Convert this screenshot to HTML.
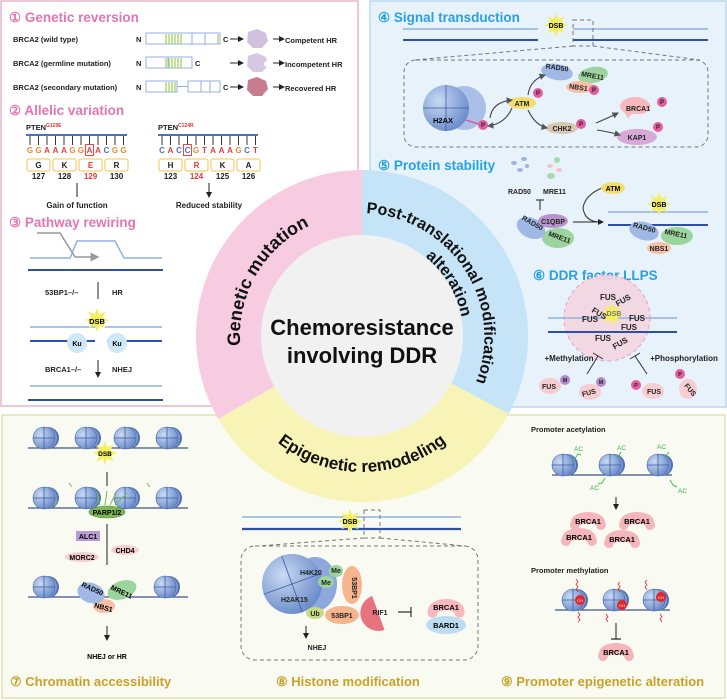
<!DOCTYPE html>
<html><head><meta charset="utf-8"><style>
html,body{margin:0;padding:0;background:#fff}
svg{display:block;font-family:"Liberation Sans",Arial,sans-serif}
.b{font-weight:bold}
</style></head><body>
<svg width="727" height="700" viewBox="0 0 727 700" xmlns="http://www.w3.org/2000/svg">
<defs>
<radialGradient id="ng" cx="0.35" cy="0.35" r="0.8"><stop offset="0" stop-color="#c9daf3"/><stop offset="1" stop-color="#5c80c4"/></radialGradient>
<symbol id="nuc" overflow="visible">
<circle cx="4" cy="0" r="11" fill="#4f6fae"/><circle cx="2" cy="0" r="11" fill="#7f9bd2"/>
<circle cx="0" cy="0" r="11" fill="url(#ng)" stroke="#4a68a8" stroke-width="0.6"/>
<path d="M-11,0H11M0,-11V11" stroke="#3f5e9e" stroke-width="0.8"/></symbol>
<symbol id="star" overflow="visible"><polygon points="12,0 5.5,2.3 8.5,8.5 2.3,5.5 0,12 -2.3,5.5 -8.5,8.5 -5.5,2.3 -12,0 -5.5,-2.3 -8.5,-8.5 -2.3,-5.5 0,-12 2.3,-5.5 8.5,-8.5 5.5,-2.3" fill="#f4ef5c"/></symbol>
<marker id="ar" markerWidth="6" markerHeight="6" refX="5" refY="3" orient="auto"><path d="M0,0L6,3L0,6Z" fill="#222"/></marker>
<marker id="ag" markerWidth="6" markerHeight="6" refX="5" refY="3" orient="auto"><path d="M0,0L6,3L0,6Z" fill="#555"/></marker>
<marker id="agr" markerWidth="6" markerHeight="6" refX="5" refY="3" orient="auto"><path d="M0,0L6,3L0,6Z" fill="#999"/></marker>
<path id="tGen" d="M301,441.7 A122,122 0 0 1 423,230.3"/>
<path id="tPost" d="M294.5,232 A124,124 0 0 1 429.5,440"/>
<path id="tAlt" d="M309,247.7 A103,103 0 0 1 415,424.3"/>
<path id="tEpi" d="M226,336 A136,136 0 0 0 498,336"/>
</defs>

<rect x="1" y="1" width="357" height="405" fill="#fff" stroke="#e8b6cc" stroke-width="1.5"/>
<rect x="370" y="1" width="356" height="406" fill="#e7f2fb" stroke="#b9d8ee" stroke-width="1.5"/>
<rect x="2" y="415" width="723" height="283" fill="#f9faf2" stroke="#dfe4b3" stroke-width="1.5"/>

<g font-size="13.5" fill="#e276ae" font-weight="bold">
<text x="9" y="22">① Genetic reversion</text>
<text x="9" y="115">② Allelic variation</text>
<text x="9" y="227">③ Pathway rewiring</text></g>
<g font-size="7.5" font-weight="bold" fill="#222">
<text x="13" y="42">BRCA2 (wild type)</text>
<text x="13" y="66">BRCA2 (germline mutation)</text>
<text x="13" y="90">BRCA2 (secondary mutation)</text>
<text x="136" y="42">N</text><text x="136" y="66">N</text><text x="136" y="90">N</text>
<text x="223" y="42">C</text><text x="195" y="66">C</text><text x="223" y="90">C</text>
<text x="285" y="43">Competent HR</text><text x="285" y="67">Incompetent HR</text><text x="285" y="91">Recovered HR</text></g>
<g stroke="#8fb1e0" fill="#fff" stroke-width="1">
<rect x="146" y="33" width="74" height="11"/><rect x="146" y="57" width="46" height="11"/>
<rect x="146" y="81" width="31" height="11"/><rect x="188" y="81" width="32" height="11"/>
<path d="M177,86.5H188M192,33v11M205,33v11M168,57v11M201,81v11M210,81v11" fill="none"/></g>
<g stroke="#9fcf5a" stroke-width="1.2">
<path d="M166,34v10M169,34v10M172,34v10M175,34v10M178,34v10M181,34v10M218,34v10M166,58v10M169,58v10M172,58v10M175,58v10M178,58v10M181,58v10M166,82v10M169,82v10M172,82v10M175,82v10"/></g>
<g stroke="#222" stroke-width="1" marker-end="url(#ar)">
<path d="M230,39H243"/><path d="M230,63H243"/><path d="M230,87H243"/>
<path d="M273,39H284"/><path d="M273,63H284"/><path d="M273,87H284"/></g>
<path d="M248,32l9,-3l9,4l2,8l-6,7l-9,0l-6,-6z" fill="#d0c2de"/>
<path d="M248,56l9,-3l9,4l1,4a3,3 0 0 0 0,6l-5,5l-9,0l-6,-6z" fill="#d6c8e2"/>
<path d="M248,80l9,-3l9,4l2,8l-6,7l-9,0l-6,-6z" fill="#c87c90"/>
<g font-size="7.5" font-weight="bold" fill="#222"><text x="26" y="130">PTEN<tspan font-size="5" dy="-3" fill="#e33">G129E</tspan></text>
<text x="158" y="130">PTEN<tspan font-size="5" dy="-3" fill="#e33">C124R</tspan></text></g>
<path d="M26,135H127M158,135H258" stroke="#4d6fc1" stroke-width="2"/>
<g stroke="#222" stroke-width="0.9"><path d="M30,136v9M38.5,136v9M47,136v9M55.5,136v9M64,136v9M72.5,136v9M81,136v9M89.5,136v9M98,136v9M106.5,136v9M115,136v9M123.5,136v9"/>
<path d="M162,136v9M170.5,136v9M179,136v9M187.5,136v9M196,136v9M204.5,136v9M213,136v9M221.5,136v9M230,136v9M238.5,136v9M247,136v9M255.5,136v9"/></g>
<g font-size="8" font-weight="bold" text-anchor="middle">
<text x="30" y="153" fill="#f08a2a">G</text><text x="38.5" y="153" fill="#f08a2a">G</text><text x="47" y="153" fill="#e43c3c">A</text><text x="55.5" y="153" fill="#e43c3c">A</text><text x="64" y="153" fill="#e43c3c">A</text><text x="72.5" y="153" fill="#f08a2a">G</text><text x="81" y="153" fill="#f08a2a">G</text><text x="89.5" y="153" fill="#e43c3c">A</text><text x="98" y="153" fill="#e43c3c">A</text><text x="106.5" y="153" fill="#4a6fc8">C</text><text x="115" y="153" fill="#f08a2a">G</text><text x="123.5" y="153" fill="#f08a2a">G</text>
<text x="162" y="153" fill="#4a6fc8">C</text><text x="170.5" y="153" fill="#e43c3c">A</text><text x="179" y="153" fill="#4a6fc8">C</text><text x="187.5" y="153" fill="#4a6fc8">C</text><text x="196" y="153" fill="#f08a2a">G</text><text x="204.5" y="153" fill="#e43c3c">T</text><text x="213" y="153" fill="#e43c3c">A</text><text x="221.5" y="153" fill="#e43c3c">A</text><text x="230" y="153" fill="#e43c3c">A</text><text x="238.5" y="153" fill="#f08a2a">G</text><text x="247" y="153" fill="#4a6fc8">C</text><text x="255.5" y="153" fill="#e43c3c">T</text></g>
<rect x="85.5" y="144.5" width="8" height="11" fill="none" stroke="#e33" stroke-width="0.9"/>
<rect x="183.5" y="144.5" width="8" height="11" fill="none" stroke="#e33" stroke-width="0.9"/>
<g fill="#fff" stroke="#f2c54a" stroke-width="1"><rect x="27" y="159" width="23" height="12" rx="2"/><rect x="53" y="159" width="23" height="12" rx="2"/><rect x="79" y="159" width="23" height="12" rx="2"/><rect x="105" y="159" width="23" height="12" rx="2"/>
<rect x="159" y="159" width="23" height="12" rx="2"/><rect x="185" y="159" width="23" height="12" rx="2"/><rect x="211" y="159" width="23" height="12" rx="2"/><rect x="237" y="159" width="23" height="12" rx="2"/></g>
<g font-size="8" font-weight="bold" text-anchor="middle" fill="#222">
<text x="38.5" y="168">G</text><text x="64.5" y="168">K</text><text x="90.5" y="168" fill="#e33">E</text><text x="116.5" y="168">R</text>
<text x="38.5" y="179">127</text><text x="64.5" y="179">128</text><text x="90.5" y="179" fill="#e33">129</text><text x="116.5" y="179">130</text>
<text x="170.5" y="168">H</text><text x="196.5" y="168" fill="#e33">R</text><text x="222.5" y="168">K</text><text x="248.5" y="168">A</text>
<text x="170.5" y="179">123</text><text x="196.5" y="179" fill="#e33">124</text><text x="222.5" y="179">125</text><text x="248.5" y="179">126</text>
<text x="77" y="208">Gain of function</text><text x="209" y="208">Reduced stability</text></g>
<path d="M77,183V197M209,183V197" stroke="#222" stroke-width="1" marker-end="url(#ar)"/>
<path d="M30,258H70L77,241H115L124,258H162" fill="none" stroke="#8fb1e0" stroke-width="1.5"/>
<path d="M37,233H60L75,257H98" fill="none" stroke="#999" stroke-width="1.5" marker-end="url(#agr)"/>
<path d="M28,270H163" stroke="#2c4fa8" stroke-width="2"/>
<g font-size="7.5" font-weight="bold" fill="#222"><text x="45" y="295">53BP1–/–</text><text x="112" y="295">HR</text><text x="45" y="372">BRCA1–/–</text><text x="112" y="372">NHEJ</text></g>
<path d="M98,299V282M98,360V377" stroke="#222" stroke-width="1" marker-end="url(#ar)"/>
<path d="M30,327H97M105,327H162M30,386H162" stroke="#8fb1e0" stroke-width="1.5"/>
<path d="M30,341H95M107,341H162M28,400H163" stroke="#2c4fa8" stroke-width="2"/>
<use href="#star" x="97" y="320"/>
<text x="97" y="324" font-size="7.5" font-weight="bold" text-anchor="middle">DSB</text>
<circle cx="77" cy="343" r="10" fill="#cfe8f7"/><circle cx="117" cy="343" r="10" fill="#cfe8f7"/>
<text x="77" y="346" font-size="7" font-weight="bold" text-anchor="middle">Ku</text><text x="117" y="346" font-size="7" font-weight="bold" text-anchor="middle">Ku</text>

<g font-size="13.5" font-weight="bold" fill="#27a1e2">
<text x="378" y="22">④ Signal transduction</text>
<text x="378" y="170">⑤ Protein stability</text>
<text x="533" y="280">⑥ DDR factor LLPS</text></g>
<path d="M403,29H538M573,29H708" stroke="#8fb1e0" stroke-width="1.5"/>
<path d="M403,40H538M573,40H708" stroke="#2c4fa8" stroke-width="2"/>
<use href="#star" x="556" y="25"/><text x="556" y="28" font-size="7" font-weight="bold" text-anchor="middle">DSB</text>
<g fill="none" stroke="#777" stroke-width="1" stroke-dasharray="4,3">
<rect x="573" y="20" width="20" height="26"/><path d="M573,46L414,60M593,46L700,60"/>
<rect x="404" y="60" width="304" height="87" rx="12"/></g>
<circle cx="464" cy="108" r="22" fill="#a9bfe8"/><circle cx="446" cy="108" r="23" fill="url(#ng)"/>
<path d="M423,108H469M446,85V131" stroke="#3f5e9e" stroke-width="0.8"/>
<path d="M466,120L482,125" stroke="#e0508e" stroke-width="1.2"/>
<text x="433" y="123" font-size="7.5" font-weight="bold">H2AX</text>
<g font-size="7" font-weight="bold" fill="#222">
<ellipse cx="522" cy="103" rx="14" ry="6" fill="#f3dd6a"/><text x="522" y="106" text-anchor="middle">ATM</text>
<ellipse cx="593" cy="75" rx="15" ry="8" fill="#9cd49e" transform="rotate(-10 593 75)"/>
<ellipse cx="557" cy="72" rx="16" ry="8" fill="#9fb8e6" transform="rotate(10 557 72)"/>
<ellipse cx="580" cy="87" rx="14" ry="6" fill="#f6c0a6"/>
<text x="545" y="70" transform="rotate(8 557 72)">RAD50</text><text x="581" y="78" transform="rotate(10 592 76)">MRE11</text><text x="569" y="90" transform="rotate(8 580 88)">NBS1</text>
<ellipse cx="562" cy="128" rx="16" ry="6" fill="#d8c8b2"/><text x="562" y="131" text-anchor="middle">CHK2</text>
<path d="M622,102a14,8 0 0 1 26,0a14,8 0 0 1 -6,12l-10,0l-4,4l-4,-6a6,6 0 0 1 -2,-10z" fill="#f7b9bd"/><text x="626" y="111">BRCA1</text>
<ellipse cx="637" cy="137" rx="20" ry="8" fill="#d7a8d8"/><text x="637" y="140" text-anchor="middle">KAP1</text></g>
<g font-size="6" font-weight="bold" fill="#222" text-anchor="middle">
<circle cx="483" cy="125" r="5" fill="#e45da0"/><text x="483" y="127">P</text>
<circle cx="538" cy="93" r="5" fill="#e45da0"/><text x="538" y="95">P</text>
<circle cx="594" cy="90" r="5" fill="#e45da0"/><text x="594" y="92">P</text>
<circle cx="581" cy="124" r="5" fill="#e45da0"/><text x="581" y="126">P</text>
<circle cx="662" cy="102" r="5" fill="#e45da0"/><text x="662" y="104">P</text>
<circle cx="658" cy="127" r="5" fill="#e45da0"/><text x="658" y="129">P</text></g>
<g fill="none" stroke="#444" stroke-width="1.1" marker-end="url(#ag)">
<path d="M490,118Q492,102 512,100"/><path d="M512,108Q505,124 488,126"/>
<path d="M528,95Q530,80 545,75"/><path d="M528,110Q535,125 547,128"/>
<path d="M596,123Q608,118 618,113"/><path d="M597,130Q610,132 620,135"/></g>
<g fill="#9fb4e6"><ellipse cx="514" cy="163" rx="3" ry="2"/><ellipse cx="524" cy="159" rx="3" ry="2"/><ellipse cx="520" cy="170" rx="3" ry="2"/><ellipse cx="527" cy="166" rx="2" ry="2"/></g>
<g fill="#a9d9ae"><ellipse cx="557" cy="160" rx="3" ry="3"/><ellipse cx="551" cy="176" rx="4" ry="3"/></g>
<g fill="#f5c3c8"><ellipse cx="550" cy="166" rx="3" ry="2"/><ellipse cx="559" cy="170" rx="3" ry="2"/></g>
<g font-size="7" font-weight="bold" fill="#222"><text x="508" y="194">RAD50</text><text x="543" y="194">MRE11</text></g>
<path d="M540,200V210M536,200H544" stroke="#444" stroke-width="1.2"/>
<ellipse cx="558" cy="238" rx="16" ry="10" fill="#9cd49e"/>
<ellipse cx="531" cy="228" rx="15" ry="10" fill="#9fb8e6" transform="rotate(25 531 228)"/>
<ellipse cx="553" cy="221" rx="15" ry="7" fill="#b894cd"/>
<g font-size="7" font-weight="bold" fill="#222"><text x="553" y="224" text-anchor="middle">C1QBP</text>
<text x="519" y="224" transform="rotate(30 529 226)">RAD50</text><text x="547" y="239" transform="rotate(20 557 240)">MRE11</text></g>
<path d="M573,222H603" stroke="#222" stroke-width="1" marker-end="url(#ar)"/>
<path d="M602,188Q585,195 583,208Q585,222 600,222" fill="none" stroke="#333" stroke-width="1"/>
<ellipse cx="613" cy="188" rx="12" ry="6" fill="#f3dd6a"/><text x="613" y="191" font-size="7" font-weight="bold" text-anchor="middle">ATM</text>
<path d="M608,212H708" stroke="#8fb1e0" stroke-width="1.5"/><path d="M608,225H708" stroke="#2c4fa8" stroke-width="2"/>
<use href="#star" x="659" y="204"/><text x="659" y="207" font-size="7" font-weight="bold" text-anchor="middle">DSB</text>
<ellipse cx="659" cy="248" rx="12" ry="6" fill="#f6c0a6"/>
<ellipse cx="677" cy="236" rx="16" ry="9" fill="#9cd49e"/>
<ellipse cx="644" cy="231" rx="15" ry="9" fill="#9fb8e6" transform="rotate(15 644 231)"/>
<g font-size="7" font-weight="bold" fill="#222"><text x="632" y="230" transform="rotate(15 644 231)">RAD50</text><text x="664" y="236" transform="rotate(12 675 236)">MRE11</text><text x="659" y="251" text-anchor="middle">NBS1</text></g>
<circle cx="607" cy="318" r="43" fill="#f4d6e0" stroke="#e89ab4" stroke-dasharray="4,3" opacity="0.9"/>
<path d="M548,318H677" stroke="#8fb1e0" stroke-width="1.5"/><path d="M548,332H677" stroke="#2c4fa8" stroke-width="2"/>
<use href="#star" x="612" y="314"/>
<g font-size="8" font-weight="bold" fill="#222" text-anchor="middle">
<text x="608" y="300">FUS</text><text x="623" y="303" transform="rotate(-30 623 300)">FUS</text><text x="590" y="322">FUS</text><text x="599" y="316" transform="rotate(30 599 314)">FUS</text>
<text x="637" y="321">FUS</text><text x="629" y="330">FUS</text><text x="603" y="341">FUS</text><text x="620" y="346" transform="rotate(-30 620 343)">FUS</text>
<text x="614" y="316" font-size="7" fill="#777">DSB</text>
<text x="569" y="361">+Methylation</text><text x="684" y="361">+Phosphorylation</text></g>
<path d="M587,374L598,356M593,353L603,359M647,374L635,356M630,359L640,353" stroke="#333" stroke-width="1"/>
<g fill="#f6cdd1"><ellipse cx="550" cy="386" rx="11" ry="8"/><ellipse cx="590" cy="392" rx="11" ry="8"/><ellipse cx="653" cy="391" rx="11" ry="8"/><ellipse cx="688" cy="389" rx="9" ry="10"/></g>
<g fill="#b28ac9"><circle cx="565" cy="380" r="5"/><circle cx="601" cy="382" r="5"/></g>
<g fill="#e45da0"><circle cx="636" cy="385" r="5"/><circle cx="680" cy="374" r="5"/></g>
<g font-size="7" font-weight="bold" fill="#222" text-anchor="middle"><text x="549" y="389">FUS</text><text x="589" y="395" transform="rotate(-15 589 393)">FUS</text><text x="654" y="394">FUS</text><text x="690" y="392" transform="rotate(50 690 390)">FUS</text>
<text x="565" y="382" font-size="5.5">M</text><text x="601" y="384" font-size="5.5">M</text><text x="636" y="387" font-size="5.5">P</text><text x="680" y="376" font-size="5.5">P</text></g>

<path d="M218.2,419 A166 166 0 0 1 362,170 L362,236 A100 100 0 0 0 275.4,386 Z" fill="#f7cce0"/>
<path d="M362,170 A166 166 0 0 1 508.6,413.9 L450.3,382.9 A100 100 0 0 0 362,236 Z" fill="#c6e4f7"/>
<path d="M508.6,413.9 A166 166 0 0 1 218.2,419 L275.4,386 A100 100 0 0 0 450.3,382.9 Z" fill="#f8f4b8"/>
<circle cx="362" cy="336" r="101" fill="#f1f1f1"/>
<g font-weight="bold" fill="#111">
<text font-size="18"><textPath href="#tGen" startOffset="50%" text-anchor="middle">Genetic mutation</textPath></text>
<text font-size="16"><textPath href="#tPost" startOffset="50%" text-anchor="middle">Post-translational modification</textPath></text>
<text font-size="16"><textPath href="#tAlt" startOffset="50%" text-anchor="middle">alteration</textPath></text>
<text font-size="17"><textPath href="#tEpi" startOffset="50%" text-anchor="middle">Epigenetic remodeling</textPath></text>
<text x="362" y="335" font-size="22" text-anchor="middle">Chemoresistance</text>
<text x="362" y="363" font-size="22" text-anchor="middle">involving DDR</text></g>

<g font-size="13" font-weight="bold" fill="#c6a22a">
<text x="10" y="686">⑦ Chromatin accessibility</text>
<text x="276" y="686">⑧ Histone modification</text>
<text x="501" y="686">⑨ Promoter epigenetic alteration</text></g>
<path d="M28,448H188M28,508H188M28,597H188" stroke="#3f5582" stroke-width="1.2" fill="none"/>
<use href="#nuc" x="44" y="438"/><use href="#nuc" x="86" y="438"/><use href="#nuc" x="125" y="438"/><use href="#nuc" x="167" y="438"/>
<use href="#star" x="105" y="453"/><text x="105" y="456" font-size="6.5" font-weight="bold" text-anchor="middle">DSB</text>
<path d="M107,472V486M107,524V565M107,626V640" stroke="#222" stroke-width="1" marker-end="url(#ar)"/>
<use href="#nuc" x="44" y="498"/><use href="#nuc" x="86" y="498"/><use href="#nuc" x="125" y="498"/><use href="#nuc" x="167" y="498"/>
<g stroke="#6fbf4a" stroke-width="1" fill="none"><path d="M100,505l-3,-12M105,505l2,-14M110,505l6,-12M115,505l12,-12M72,487l-3,-4M150,487l-3,-4M55,505l3,-5"/></g>
<ellipse cx="107" cy="512" rx="18" ry="6" fill="#7fb555" stroke="#4d8a30" stroke-width="0.6"/>
<text x="107" y="515" font-size="7" font-weight="bold" text-anchor="middle">PARP1/2</text>
<rect x="76" y="531" width="24" height="10" fill="#b89ad6"/><text x="88" y="539" font-size="7" font-weight="bold" text-anchor="middle">ALC1</text>
<ellipse cx="82" cy="557" rx="17" ry="5" fill="#f6cdd3"/><text x="82" y="560" font-size="7" font-weight="bold" text-anchor="middle">MORC2</text>
<ellipse cx="125" cy="550" rx="14" ry="5" fill="#f6cdd3"/><text x="125" y="553" font-size="7" font-weight="bold" text-anchor="middle">CHD4</text>
<use href="#nuc" x="44" y="587"/><use href="#nuc" x="165" y="587"/>
<ellipse cx="104" cy="606" rx="11" ry="7" fill="#f6c0a6"/>
<ellipse cx="122" cy="590" rx="15" ry="9" fill="#9cd49e" transform="rotate(-20 122 590)"/>
<ellipse cx="91" cy="593" rx="14" ry="10" fill="#9fb8e6" transform="rotate(20 91 593)"/>
<g font-size="7" font-weight="bold"><text x="79" y="591" transform="rotate(25 91 593)">RAD50</text><text x="110" y="594" transform="rotate(25 121 592)">MRE11</text><text x="94" y="610" transform="rotate(15 104 608)">NBS1</text>
<text x="107" y="659" text-anchor="middle">NHEJ or HR</text></g>
<path d="M242,517H461" stroke="#8fb1e0" stroke-width="1.5"/><path d="M242,529H348M352,529H461" stroke="#2c4fa8" stroke-width="2.2"/>
<use href="#star" x="350" y="521"/><text x="350" y="524" font-size="7" font-weight="bold" text-anchor="middle">DSB</text>
<g fill="none" stroke="#777" stroke-width="1" stroke-dasharray="4,3"><rect x="364" y="510" width="16" height="28"/><path d="M364,538L258,546M380,538L465,546"/><rect x="241" y="546" width="237" height="114" rx="14"/></g>
<ellipse cx="315" cy="584" rx="22" ry="27" fill="#8ea8de"/>
<circle cx="292" cy="584" r="30" fill="url(#ng)"/><path d="M262,584L322,584M292,554V614" stroke="#3f5e9e" stroke-width="0.8" transform="rotate(-20 292 584)"/>
<ellipse cx="352" cy="585" rx="10" ry="19" fill="#f7b58e"/>
<ellipse cx="342" cy="615" rx="17" ry="9" fill="#f7b58e"/>
<path d="M378,595a18,18 0 0 0 0,36z" fill="#e8727e" transform="rotate(-20 378 612)"/>
<ellipse cx="336" cy="571" rx="7" ry="6" fill="#9cd49e"/><ellipse cx="326" cy="582" rx="8" ry="6" fill="#9cd49e"/>
<ellipse cx="315" cy="613" rx="9" ry="6" fill="#c6dd86"/>
<g font-size="7" font-weight="bold" fill="#222"><text x="300" y="575">H4K20</text><text x="281" y="602">H2AK15</text>
<text x="336" y="573" text-anchor="middle">Me</text><text x="326" y="585" text-anchor="middle">Me</text><text x="315" y="616" text-anchor="middle">Ub</text>
<text x="355" y="585" transform="rotate(90 352 585)" text-anchor="middle">53BP1</text><text x="342" y="618" text-anchor="middle">53BP1</text>
<text x="380" y="615" text-anchor="middle">RIF1</text>
<text x="317" y="650" text-anchor="middle">NHEJ</text></g>
<path d="M306,626V638" stroke="#222" stroke-width="1" marker-end="url(#ar)"/>
<path d="M398,612H411M411,607V617" stroke="#333" stroke-width="1.2"/>
<ellipse cx="446" cy="625" rx="20" ry="9" fill="#bcdcf2"/>
<path d="M428,610a18,11 0 0 1 36,0a5,5 0 0 1 -9,5a9,5 0 0 0 -18,0a5,5 0 0 1 -9,-5z" fill="#f7b9bd"/>
<g font-size="7.5" font-weight="bold"><text x="446" y="610" text-anchor="middle">BRCA1</text><text x="446" y="628" text-anchor="middle">BARD1</text></g>
<g font-size="7.5" font-weight="bold" fill="#222"><text x="531" y="432">Promoter acetylation</text><text x="531" y="573">Promoter methylation</text></g>
<path d="M552,475H672M555,610H670" stroke="#3f5582" stroke-width="1.2" fill="none"/>
<use href="#nuc" x="563" y="465"/><use href="#nuc" x="610" y="465"/><use href="#nuc" x="658" y="465"/>
<g stroke="#3cbf4a" fill="none" stroke-width="1"><path d="M574,460l4,-6l3,1M618,458l3,-6M665,457l4,-5M605,478l-3,5l-4,1M670,480l3,5l4,2"/></g>
<g font-size="6.5" fill="#2fb54a"><text x="574" y="451">AC</text><text x="617" y="450">AC</text><text x="657" y="449">AC</text><text x="590" y="490">AC</text><text x="678" y="493">AC</text></g>
<path d="M616,623V639" stroke="#222" stroke-width="1"/><path d="M616,497V509" stroke="#222" marker-end="url(#ar)"/><path d="M611,639H621" stroke="#222" stroke-width="1.2"/>
<g fill="#f5b6bb"><path d="M571,522a17,10 0 0 1 34,0a5,5 0 0 1 -8,6a9,5 0 0 0 -18,0a5,5 0 0 1 -8,-6z"/><path d="M620,522a17,10 0 0 1 34,0a5,5 0 0 1 -8,6a9,5 0 0 0 -18,0a5,5 0 0 1 -8,-6z"/>
<path d="M562,538a17,10 0 0 1 34,0a5,5 0 0 1 -8,6a9,5 0 0 0 -18,0a5,5 0 0 1 -8,-6z"/><path d="M605,540a17,10 0 0 1 34,0a5,5 0 0 1 -8,6a9,5 0 0 0 -18,0a5,5 0 0 1 -8,-6z"/>
<path d="M599,653a17,10 0 0 1 34,0a5,5 0 0 1 -8,6a9,5 0 0 0 -18,0a5,5 0 0 1 -8,-6z"/></g>
<g font-size="7.5" font-weight="bold" text-anchor="middle"><text x="588" y="524">BRCA1</text><text x="637" y="524">BRCA1</text><text x="579" y="540">BRCA1</text><text x="622" y="542">BRCA1</text><text x="616" y="655">BRCA1</text></g>
<use href="#nuc" x="573" y="600"/><use href="#nuc" x="614" y="600"/><use href="#nuc" x="654" y="600"/>
<g stroke="#e3262a" fill="none" stroke-width="0.8"><path d="M578,592l-2,-3l2,-2l-2,-3l2,-2l-2,-3M620,592l-2,-3l2,-2l-2,-3l2,-2M647,590l-2,-3l2,-2l-2,-3l2,-2M578,612l2,3l-2,2l2,3l-2,2M606,614l2,3l-2,2l2,3M660,614l2,3l-2,2l2,3"/></g>
<g fill="#e3262a"><circle cx="580" cy="600" r="5"/><circle cx="622" cy="605" r="5"/><circle cx="661" cy="597" r="5"/></g>
<g font-size="4" fill="#fff" text-anchor="middle"><text x="580" y="602">CH</text><text x="622" y="607">CH</text><text x="661" y="599">CH</text></g>
</svg>
</body></html>
